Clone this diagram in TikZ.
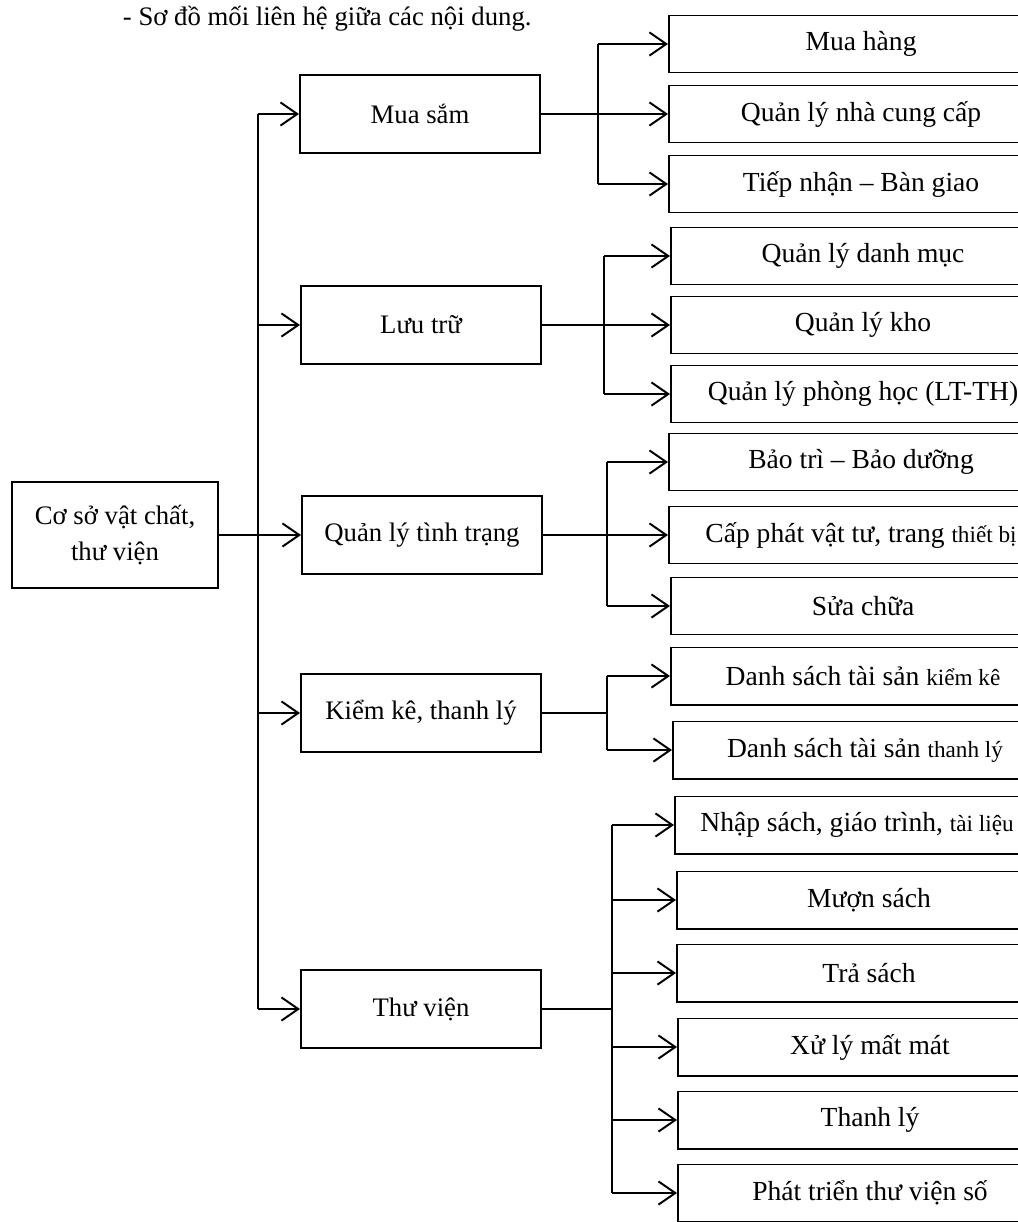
\documentclass[tikz,border=0pt]{standalone}
\usepackage{fontspec}
\setmainfont{Liberation Serif}
\usetikzlibrary{arrows.meta}
\newcommand\shrinkw[1]{{\fontsize{16.5}{20}\selectfont #1}}
\begin{document}
\begin{tikzpicture}[x=0.025cm,y=-0.025cm,
  every node/.style={font=\fontsize{19}{26}\selectfont},
  box/.style={draw, line width=1.4pt, inner sep=0pt, align=center},
  rootbox/.style={box, minimum width=5.15cm, minimum height=2.65cm},
  midbox/.style={box, minimum width=6cm, minimum height=1.95cm},
  leafbox/.style={box, minimum width=9.6cm, minimum height=1.425cm, anchor=west, font=\fontsize{19.6}{26}\selectfont},
  link/.style={line width=1.4pt},
  arr/.style={link, -{Straight Barb[length=4.2mm,width=5.8mm]}}]
\useasboundingbox (0,0) rectangle (1018,1222);
\node[anchor=base west] (title) at (118,26) {- Sơ đồ mối liên hệ giữa các nội dung.};

% root and level 1
\node[rootbox] (root) at (115,535) {Cơ sở vật chất,\\thư viện};
\node[midbox] (MuaSam) at (420,114) {Mua sắm};
\node[midbox] (LuuTru) at (421,325) {Lưu trữ};
\node[midbox] (QLTT) at (422,535) {Quản lý tình trạng};
\node[midbox] (KiemKe) at (421,713) {Kiểm kê, thanh lý};
\node[midbox] (ThuVien) at (421,1009) {Thư viện};

% level 2
\node[leafbox] (MH) at (668,44) {Mua hàng};
\node[leafbox] (NCC) at (668,114) {Quản lý nhà cung cấp};
\node[leafbox] (TNBG) at (668,184) {Tiếp nhận – Bàn giao};
\node[leafbox] (QLDM) at (670,256) {Quản lý danh mục};
\node[leafbox] (QLK) at (670,325) {Quản lý kho};
\node[leafbox] (QLPH) at (670,394) {Quản lý phòng học (LT-TH)};
\node[leafbox] (BT) at (668,462) {Bảo trì – Bảo dưỡng};
\node[leafbox] (CP) at (668,535) {Cấp phát vật tư, trang \shrinkw{thiết bị}};
\node[leafbox] (SC) at (670,606) {Sửa chữa};
\node[leafbox] (DSKK) at (670,676) {Danh sách tài sản \shrinkw{kiểm kê}};
\node[leafbox] (DSTL) at (672,750) {Danh sách tài sản \shrinkw{thanh lý}};
\node[leafbox] (NS) at (674,825) {Nhập sách, giáo trình, \shrinkw{tài liệu}\hspace*{0.5cm}};
\node[leafbox] (MS) at (676,900) {Mượn sách};
\node[leafbox] (TS) at (676,973) {Trả sách};
\node[leafbox] (XL) at (677,1047) {Xử lý mất mát};
\node[leafbox] (TL) at (677,1120) {Thanh lý};
\node[leafbox] (PT) at (677,1193) {Phát triển thư viện số};

% trunk
\coordinate (tA) at (258,114);
\coordinate (tB) at (258,325);
\coordinate (tD) at (258,713);
\coordinate (tE) at (258,1009);
\draw[link] (tA) -- (tE);
\draw[arr] (root.east) -- (QLTT.west);
\draw[arr] (tA) -- (MuaSam.west);
\draw[arr] (tB) -- (LuuTru.west);
\draw[arr] (tD) -- (KiemKe.west);
\draw[arr] (tE) -- (ThuVien.west);

% branch: Mua sam
\coordinate (a1) at (598,44);
\coordinate (a3) at (598,184);
\draw[link] (a1) -- (a3);
\draw[arr] (MuaSam.east) -- (NCC.west);
\draw[arr] (a1) -- (MH.west);
\draw[arr] (a3) -- (TNBG.west);

% branch: Luu tru
\coordinate (b1) at (604,256);
\coordinate (b3) at (604,394);
\draw[link] (b1) -- (b3);
\draw[arr] (LuuTru.east) -- (QLK.west);
\draw[arr] (b1) -- (QLDM.west);
\draw[arr] (b3) -- (QLPH.west);

% branch: Quan ly tinh trang
\coordinate (c1) at (607,462);
\coordinate (c3) at (607,606);
\draw[link] (c1) -- (c3);
\draw[arr] (QLTT.east) -- (CP.west);
\draw[arr] (c1) -- (BT.west);
\draw[arr] (c3) -- (SC.west);

% branch: Kiem ke
\coordinate (d0) at (607,713);
\coordinate (d1) at (607,676);
\coordinate (d2) at (607,750);
\draw[link] (KiemKe.east) -- (d0);
\draw[link] (d1) -- (d2);
\draw[arr] (d1) -- (DSKK.west);
\draw[arr] (d2) -- (DSTL.west);

% branch: Thu vien
\coordinate (e0) at (612,1009);
\coordinate (e1) at (612,825);
\coordinate (e2) at (612,900);
\coordinate (e3) at (612,973);
\coordinate (e4) at (612,1047);
\coordinate (e5) at (612,1120);
\coordinate (e6) at (612,1193);
\draw[link] (ThuVien.east) -- (e0);
\draw[link] (e1) -- (e6);
\draw[arr] (e1) -- (NS.west);
\draw[arr] (e2) -- (MS.west);
\draw[arr] (e3) -- (TS.west);
\draw[arr] (e4) -- (XL.west);
\draw[arr] (e5) -- (TL.west);
\draw[arr] (e6) -- (PT.west);
\end{tikzpicture}
\end{document}
